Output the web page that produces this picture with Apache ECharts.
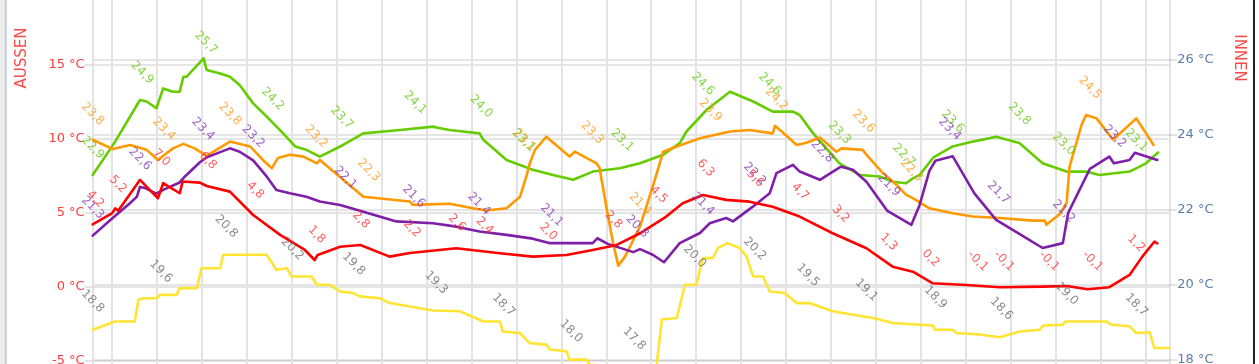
<!DOCTYPE html>
<html><head><meta charset="utf-8">
<script src="https://cdn.jsdelivr.net/npm/echarts@6/dist/echarts.min.js"></script>
<style>html,body{margin:0;padding:0;background:#fff;overflow:hidden}#c{width:1259px;height:364px}</style>
</head><body><div id="c"></div>
<script>
// time axis: minutes after the first sample (00:35)
const START = new Date(2020, 0, 1, 0, 35).getTime();
const SPAN_MIN = 1436;

// AUSSEN (left axis)
const redT = [0,26,30,34,63,87,94,116,120,143,152,183,214,250,283,296,300,330,357,396,423,485,543,587,632,667,699,730,765,787,814,845,876,907,943,987,1032,1067,1094,1120,1165,1210,1267,1299,1327,1356,1383,1400,1416,1420];
const redV = [4.2,4.96,5.29,5.13,7.21,5.97,6.99,6.31,7.10,7.03,6.80,6.42,4.84,3.49,2.47,1.79,2.13,2.69,2.81,2.02,2.27,2.59,2.25,2.02,2.13,2.47,2.81,3.60,4.73,5.63,6.19,5.86,5.74,5.40,4.73,3.60,2.59,1.34,1.00,0.22,0.10,-0.05,-0.01,0.03,-0.19,-0.05,0.78,2.02,3.03,2.92];

// INNEN (right axis)
const greenT = [0,30,63,72,85,94,107,116,121,125,148,152,170,183,196,214,232,254,270,285,303,334,361,410,454,460,476,516,521,552,587,614,641,667,703,730,761,783,792,819,850,881,907,934,943,961,996,1023,1050,1067,1085,1094,1103,1121,1147,1174,1205,1236,1267,1299,1325,1343,1383,1405,1421];
const greenV = [22.92,23.81,24.92,24.88,24.70,25.23,25.14,25.14,25.54,25.54,26.03,25.72,25.63,25.54,25.32,24.83,24.48,24.03,23.68,23.59,23.41,23.72,24.03,24.12,24.21,24.18,24.12,24.03,23.86,23.32,23.06,22.92,22.79,23.01,23.10,23.23,23.46,23.77,24.08,24.66,25.14,24.88,24.61,24.61,24.52,24.03,23.23,22.92,22.88,22.74,22.70,22.83,22.92,23.38,23.68,23.81,23.94,23.77,23.23,23.01,23.01,22.92,23.01,23.23,23.52];

const orangeT = [0,27,50,72,87,107,121,136,152,183,210,227,239,247,263,281,299,303,361,423,427,476,507,525,552,570,579,583,590,605,636,643,672,676,685,694,701,710,730,747,761,779,810,850,876,907,910,919,939,952,970,992,999,1027,1032,1054,1072,1085,1094,1116,1147,1174,1210,1254,1270,1272,1290,1299,1303,1319,1325,1339,1361,1392,1415];
const orangeV = [23.86,23.61,23.72,23.59,23.32,23.63,23.75,23.63,23.43,23.81,23.68,23.32,23.10,23.37,23.46,23.41,23.23,23.32,22.34,22.21,22.12,22.15,22.03,21.97,22.03,22.34,22.92,23.23,23.59,23.94,23.41,23.54,23.23,23.11,22.08,21.11,20.50,20.74,21.54,22.61,23.54,23.68,23.90,24.08,24.12,24.03,24.23,24.08,23.72,23.78,23.92,23.54,23.63,23.59,23.46,22.97,22.66,22.39,22.30,22.03,21.90,21.81,21.77,21.70,21.70,21.59,21.88,22.17,23.14,24.26,24.52,24.43,23.86,24.43,23.72];

const purpleT = [0,27,50,59,63,70,85,94,116,123,143,152,183,196,214,232,245,263,285,303,330,361,405,454,485,516,552,587,610,667,673,687,721,730,747,762,783,810,823,845,854,881,903,912,934,943,970,998,1014,1032,1060,1092,1103,1116,1124,1147,1176,1205,1236,1267,1294,1301,1330,1356,1362,1383,1390,1420];
const purpleV = [21.30,21.78,22.17,22.34,22.60,22.57,22.42,22.52,22.72,22.88,23.26,23.39,23.63,23.54,23.31,22.88,22.52,22.43,22.34,22.21,22.12,21.94,21.68,21.63,21.54,21.41,21.32,21.22,21.10,21.10,21.23,21.08,20.86,20.94,20.79,20.59,21.10,21.37,21.63,21.77,21.68,22.08,22.43,22.97,23.19,23.01,22.79,23.14,23.06,22.74,21.96,21.59,22.12,23.03,23.30,23.42,22.43,21.72,21.35,20.97,21.10,21.90,23.08,23.41,23.23,23.32,23.51,23.32];

const yellowT = [0,30,56,61,67,85,90,112,116,139,145,170,174,232,245,259,265,292,299,316,330,347,356,383,396,454,490,521,543,547,570,583,605,610,632,636,659,663,722,752,759,779,790,805,814,827,834,847,863,872,881,894,903,923,939,956,987,1014,1041,1067,1103,1121,1123,1147,1152,1183,1210,1236,1263,1268,1294,1297,1352,1359,1383,1392,1410,1416,1436];
const yellowV = [18.79,19.01,19.01,19.59,19.63,19.63,19.72,19.72,19.90,19.90,20.43,20.43,20.79,20.79,20.39,20.43,20.21,20.21,19.99,19.99,19.81,19.77,19.68,19.63,19.50,19.30,19.28,19.01,19.01,18.74,18.70,18.43,18.39,18.26,18.21,17.99,17.99,17.85,17.80,17.80,19.06,19.10,19.99,19.99,20.70,20.70,20.97,21.10,20.97,20.74,20.21,20.21,19.81,19.77,19.50,19.50,19.28,19.19,19.10,18.97,18.92,18.90,18.79,18.79,18.70,18.66,18.59,18.74,18.79,18.90,18.92,19.01,19.01,18.92,18.88,18.70,18.72,18.30,18.30];

// value labels (time of the labelled sample, shown value)
const redLabelT = [0,30,88,150,213,295,354,422,482,519,604,691,751,814,880,940,994,1058,1114,1179,1214,1274,1332,1388];
const redLabelV = [4.2,5.2,7.0,6.8,4.8,1.8,2.8,2.2,2.6,2.4,2.0,2.8,4.5,6.3,5.6,4.7,3.2,1.3,0.2,-0.1,-0.1,-0.1,-0.1,1.2];
const greenLabelT = [0,66,151,240,332,430,518,574,706,814,903,996,1082,1147,1236,1295,1392];
const greenLabelV = [22.9,24.9,25.7,24.2,23.7,24.1,24.0,23.1,23.1,24.6,24.6,23.3,22.7,23.6,23.8,23.0,23.1];
const orangeLabelT = [0,95,183,298,368,576,666,730,824,912,1028,1092,1330];
const orangeLabelV = [23.8,23.4,23.8,23.2,22.3,23.1,23.3,21.4,23.9,24.2,23.6,22.3,24.5];
const purpleLabelT = [0,63,147,214,337,428,515,612,726,814,883,973,1062,1143,1208,1295,1363];
const purpleLabelV = [21.3,22.6,23.4,23.2,22.1,21.6,21.4,21.1,20.8,21.4,22.2,22.8,21.9,23.4,21.7,21.2,23.2];
const yellowLabelT = [0,91,178,266,348,458,548,638,722,803,883,954,1032,1124,1212,1299,1392];
const yellowLabelV = [18.8,19.6,20.8,20.2,19.8,19.3,18.7,18.0,17.8,20.0,20.2,19.5,19.1,18.9,18.6,19.0,18.7];

const leftAxisName = 'AUSSEN';
const rightAxisName = 'INNEN';

const pts = (T, V) => T.map((t, i) => [START + t * 60000, V[i]]);
const fmt = v => v.toFixed(1).replace('.', ',');
const FONT = 'DejaVu Sans';
const gridCol = 'rgba(0,0,0,0.10)';

function lineSeries(T, V, axis, color, z) {
  return { type: 'line', yAxisIndex: axis, data: pts(T, V), symbol: 'none', showSymbol: false,
    lineStyle: { color: color, width: 2.6, join: 'round', cap: 'round' }, itemStyle: { color: color },
    z: z, animation: false, silent: true };
}
function labelSeries(T, V, axis, color) {
  return { type: 'scatter', yAxisIndex: axis, data: pts(T, V), symbolSize: 2,
    itemStyle: { color: 'rgba(0,0,0,0)' }, z: 20, silent: true, animation: false,
    label: { show: true, position: [10.5, -17.5], align: 'right', verticalAlign: 'middle', rotate: -45,
      color: color, fontSize: 12, fontFamily: FONT, formatter: p => fmt(p.value[1]) } };
}

const chart = echarts.init(document.getElementById('c'), null, { renderer: 'canvas' });
chart.setOption({
  backgroundColor: '#fff',
  animation: false,
  grid: { left: 92.7, right: 89.7, top: -9, height: 443.2, containLabel: false, outerBoundsMode: 'none' },
  xAxis: { type: 'time', min: START, max: START + SPAN_MIN * 60000, minInterval: 3600000, maxInterval: 3600000,
    axisLine: { show: false }, axisTick: { show: false }, axisLabel: { show: false },
    splitLine: { show: true, lineStyle: { color: '#e3e3e3', width: 2 } } },
  yAxis: [
    { type: 'value', min: -10, max: 20, interval: 5, position: 'left',
      axisLine: { show: false }, axisTick: { show: true, length: 8, lineStyle: { color: gridCol, width: 2 } },
      axisLabel: { margin: 8, color: '#ff3b3b', fontSize: 13, fontFamily: FONT, formatter: v => v + ' °C' },
      splitLine: { show: true, lineStyle: { color: gridCol, width: 2 } } },
    { type: 'value', min: 16, max: 27.83, interval: 2, position: 'right',
      axisLine: { show: false }, axisTick: { show: true, length: 8, lineStyle: { color: gridCol, width: 2 } },
      axisLabel: { margin: 8, color: '#5b7ea6', fontSize: 13, fontFamily: FONT, showMaxLabel: false, formatter: v => v + ' °C' },
      splitLine: { show: true, lineStyle: { color: gridCol, width: 2 } } }
  ],
  graphic: [
    { type: 'rect', left: 0, top: 0, shape: { width: 5, height: 364 }, style: { fill: '#ececec' }, silent: true },
    { type: 'rect', left: 5, top: 0, shape: { width: 1.5, height: 364 }, style: { fill: '#a9c6de' }, silent: true },
    { type: 'rect', left: 1253, top: 0, shape: { width: 2, height: 364 }, style: { fill: '#222' }, silent: true },
    { type: 'text', x: 22, y: 58, rotation: Math.PI / 2,
      style: { text: leftAxisName, fill: '#ff4a4a', font: '15px ' + FONT, align: 'center', verticalAlign: 'middle' } },
    { type: 'text', x: 1239, y: 58, rotation: -Math.PI / 2,
      style: { text: rightAxisName, fill: '#ff4a4a', font: '15px ' + FONT, align: 'center', verticalAlign: 'middle' } }
  ],
  series: [
    lineSeries(yellowT, yellowV, 1, '#ffe433', 2),
    lineSeries(greenT, greenV, 1, '#66cc00', 3),
    lineSeries(orangeT, orangeV, 1, '#ff9900', 4),
    lineSeries(purpleT, purpleV, 1, '#7f1fa8', 5),
    lineSeries(redT, redV, 0, '#ff0000', 6),
    labelSeries(yellowLabelT, yellowLabelV, 1, '#6e6e6e'),
    labelSeries(greenLabelT, greenLabelV, 1, '#66cc11'),
    labelSeries(orangeLabelT, orangeLabelV, 1, '#ff9a1a'),
    labelSeries(purpleLabelT, purpleLabelV, 1, '#8a3bb5'),
    labelSeries(redLabelT, redLabelV, 0, '#ff3535')
  ]
});
</script></body></html>
